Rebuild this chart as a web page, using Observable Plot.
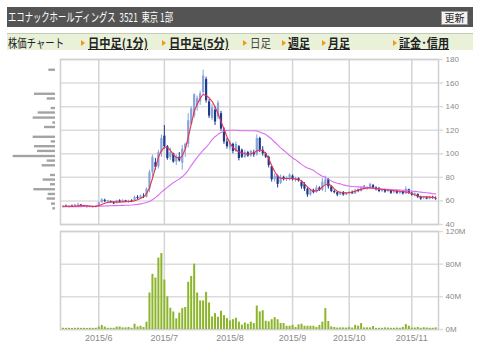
<!DOCTYPE html>
<html><head><meta charset="utf-8">
<script src="https://cdn.jsdelivr.net/npm/d3@7"></script>
<script src="https://cdn.jsdelivr.net/npm/@observablehq/plot@0.6"></script>
<style>
html,body{margin:0;padding:0;background:#fff;width:480px;height:355px;overflow:hidden;position:relative;font-family:"Noto Sans CJK JP",sans-serif;}
.abs{position:absolute;white-space:nowrap;}
#hdr{left:7px;top:7px;width:466px;height:20px;background:#545454;}
#title{left:8px;top:9px;color:#fff;font-size:12px;line-height:15px;transform-origin:0 0;}
#btn{left:441px;top:11px;width:25px;height:12px;background:#f2f2f2;border:1px solid #999;color:#222;font-size:10px;line-height:12px;text-align:center;}
#nav{left:7px;top:33px;width:466px;height:16px;background:#e9f2d9;border-top:1px solid #c3cbb8;}
.nv{font-size:12px;line-height:14px;top:36px;color:#222;transform-origin:0 0;}
.nv.b{font-weight:bold;text-decoration:underline;}
.tri{top:40px;width:0;height:0;border-left:4px solid #f19a1a;border-top:3px solid transparent;border-bottom:3px solid transparent;}
.pl{position:absolute;}
</style></head>
<body>
<div id="hdr" class="abs"></div>
<div id="title" class="abs">エコナックホールディングス&nbsp; 3521&nbsp; 東京 1部</div>
<div id="btn" class="abs">更新</div>
<div id="nav" class="abs"></div>
<div id="price" class="pl" style="left:0;top:52px;width:480px;height:178px"></div>
<div id="prof" class="pl" style="left:0;top:52px;width:60px;height:178px"></div>
<div id="vol" class="pl" style="left:0;top:226px;width:480px;height:125px"></div>
<script>
// ---- data (trading-day index 0 = 2015/5/14 ... 125 = 2015/11/13) ----
const open  = [55,55.5,55,55.5,55,56.5,56.5,55.5,55.5,54.8,55,54.5,56,58.5,60.5,59.5,59.5,58.5,58,60,59,60,59,60,60,63,62,63.5,63,70,84,92.5,89,101,115,106,97,100,93,97,92,104,108,125,132,140,144,152,163,144,130,137,131,134,120,110,105,108,102,106,103,97,101,98,101,99,113,103,100,97,89,78,81,75,80,78,78,81,78,79,76,74,70,65,69,67,71,69,74,78,72,68,67,65,67,65,66.5,67,66,69,68,71,70,71,73,71,70,68,69,68,69,67,68,66.5,68,66,69.5,66.5,65,65.5,63,62,62.5,61.5,63,62];
const high  = [56,56.5,56,56.5,57,58,57,56.5,56,55.5,55.5,56,59,62,61.5,60.5,60,59.5,60.5,61,61,60.5,60.5,61,64,64.5,65,66,71,86,99,96,103,116,124,107,105,100.5,99,101,107,109,134,140,151,149,153,171,165,146,142,140,145,136,122,113,111,109,110,107,104,103,102,103,103,116,114,106,101,98,89,83,82,82,81,80.5,83,82,80,79.5,76,75.5,71,70,70,73,72,79,81,79,73,69.5,68,68,68,67,68,68.5,70,70,72,73,72,75,74,72,71.5,70,70,70,69.5,69,68.5,69,68.5,72,70,67.5,67,66,64,63.5,63.5,64,64,63.5];
const low   = [54,54.5,54,54.8,54.8,55.5,55,54.5,54,54,54,54,55.5,58,58.5,58.5,58,57,57.5,58.5,58.5,58.5,58,58.5,59.5,61,61.5,62,62.5,67,80,86,87,97,104,94.5,94.5,92,90,93,86,97,105,124,130,136,141,150,143,130,128,124,129,119,108,104,103,100,101,94,96,96,97,97,97,98,101,98,96,88,76,76,71,74,77,76.5,77,77,76,76,70,68,63,64,66,66.5,68,68,67,70,67,66,63.5,64.5,64,64.5,65,65.5,65.5,67,67.5,69.5,69,70.5,70,68.5,67,67,66.5,67,65.5,66,65.5,65.5,65,65.5,65.5,64,63.5,62,60.5,61,61,61,61.5,60.5];
const close = [55.5,55,55.5,55.2,56.5,57,55.5,55.8,54.8,55,54.5,55.5,58.5,61,59.5,60,58.5,57.5,60,59,60.5,59,60,59.5,63,62,64,63,70,84,97,88.5,101,113,106,96,101,93,97,94,104,108,128,138,150,147,151,166,145,132,139,127,143,121,110,106,109,102,108,96,97,101,98,102,99,113,103,100,97,90,78,81,74,80,78,79.5,82,78,79,77,72,70,65,69,67,71,69,76,78,72,68,67,65,67,65,66.5,67,66,69,68,71,70,71.5,74,71,69.5,68,69.5,67.5,69,66.5,68,66.5,68,66,70,66.5,65,66,63,61.5,62.5,61.5,63,62,61.5];
const volumeM = [1.5,1.4,1.5,1.3,1.5,1.6,1.4,1.5,1.3,1.5,1.4,1.5,3,5,3,1.5,1.5,1.5,3,3,2,2,2.5,1.5,6.5,3,4,2.5,9,44.7,67.5,63,87.5,93,60.5,40,26,21.5,13,20,25.6,27,57.8,65,80,44.7,35,35,45.5,32.5,15.4,19.5,15,22.3,17,13.4,10.5,12,13.8,9,5.3,8,6.5,9,7.3,28.8,21.5,23,10,9.3,12,14.6,12,7.3,7.3,4,4,5,2.4,5.6,6.5,4,4,4,4,2.5,5,9,25.6,9.8,3.2,2.5,1.8,2,2,1.8,2.5,1.8,5,4,7.3,2,2,2,3.7,1.4,1.5,1.5,2,1.8,1.5,1.5,1.8,1.5,2.5,6,4,1.8,1.8,2.5,1.5,2.2,1.8,1.5,1.5,2];
const maShort = [55.5,55.5,55.5,55.4,55.5,55.8,56,56,55.9,55.6,55.3,55.4,56,57,58,58.8,59.2,59.2,59,59,59.2,59.4,59.5,59.6,60.2,61,62,63.5,66,71,79,88,97,102.5,105.5,105.5,103,99.5,97,96.3,98,104,114,125,136,142,147,150.3,149.5,147.5,144.5,140,134,127.5,121,114.5,109,105.5,103,101.8,100.8,100,99.6,100,100.7,102.5,103,103,100.2,96,90,85,81,79.2,79,79,79,79,78.5,78,77.3,74.5,72,69.5,68.7,68.5,69.6,72,73.8,74.6,73,70.2,68.3,67.1,67,66.8,67,67.5,68.2,69.2,69.8,70.5,71,71.2,71,70.6,70.2,69.9,69.6,69.3,69,68.7,68.5,68.2,68,67.6,67.1,66.3,65.2,64.2,63.6,63.4,63.4,63.2,63,62.8];
const maLong = [55,55,55,55.1,55.1,55.2,55.2,55.3,55.3,55.4,55.4,55.5,55.5,55.6,55.7,55.8,55.9,56,56,56.1,56.2,56.3,56.3,56.5,56.8,57.1,57.5,58,58.6,59.5,61,62.8,65,67.5,69.5,71.5,73.5,75.5,77,78.5,80.5,83,86,90,93.5,97,100,103,105.5,108.5,112,114.5,116.5,118,119.2,119.8,120,120,120,119.8,119.6,119.6,119.6,119.6,119.6,119.4,118.5,117.5,116.5,114.5,112.5,110,107.5,105,103,101,98.5,96.5,95,93,91,89.3,88,87,86,84,82.5,81,80,78.5,77,75.8,75,74.5,73.6,73,72.6,72.3,72,71.9,71.7,71.5,71.3,71,70.6,70.4,70.2,70,69.9,69.7,69.6,69.5,69.4,69.3,69.1,69,68.7,68.4,68.1,67.8,67.5,67.2,66.9,66.6,66.2,66];
// volume-by-price profile (left histogram): bin centre price and relative volume
const profilePrice = [170.9,150.5,146.5,138.4,134.6,130.3,126.1,122.3,114,110.1,106,102,97.7,93.8,89.8,81.6,77.7,73.7,69.5,65.5,61.6,57.3,53.3];
const profileVol   = [80,252,100,52,208,268,32,132,268,52,252,216,508,100,160,60,148,60,260,88,100,48,32];
// axis ticks
const priceTicks = [40,60,80,100,120,140,160,180];
const volTicks = [0,40,80,120];
const monthTickIdx = [12,34,56,77,96,117];
const monthLabels = ["2015/6","2015/7","2015/8","2015/9","2015/10","2015/11"];
const navItems = [
  {t:"株価チャート", x:7.5, w:56, cls:""},
  {t:"日中足(1分)", x:88, w:60, cls:"b", tri:81},
  {t:"日中足(5分)", x:169, w:60, cls:"b", tri:162},
  {t:"日足", x:250, w:21, cls:"", tri:243, col:"#444"},
  {t:"週足", x:288, w:22, cls:"b", tri:282},
  {t:"月足", x:328, w:22, cls:"b", tri:322},
  {t:"証金･信用", x:399, w:50, cls:"b", tri:393}
];

// ---- header ----
function fitW(el, w){ const r = el.getBoundingClientRect().width; el.style.transform = `scaleX(${w/r})`; }
fitW(document.getElementById("title"), 165);
for (const n of navItems) {
  const s = document.createElement("div");
  s.className = "abs nv " + n.cls; s.textContent = n.t; s.style.left = n.x + "px";
  if (n.col) s.style.color = n.col;
  document.body.appendChild(s); fitW(s, n.w);
  if (n.tri != null) { const t = document.createElement("div"); t.className = "abs tri"; t.style.left = n.tri + "px"; document.body.appendChild(t); }
}

// ---- charts ----
const xDom = [-0.84, 125.96];
const candles = close.map((c, i) => ({i, o: open[i], h: high[i], l: low[i], c, col: c >= open[i] ? "#86a4da" : "#1c3a8f"}));
const shortPts = maShort.map((v, i) => ({i, v}));
const longPts = maLong.map((v, i) => ({i, v}));
const vols = volumeM.map((v, i) => ({i, v}));
const prof = profilePrice.map((p, k) => ({p1: p - 1, p2: p + 1, v: profileVol[k]}));
const gridC = "#dcdcdc";
const baseStyle = {background: "transparent", fontFamily: "'Liberation Sans', Arial, sans-serif", fontSize: "8px", color: "#8a8a8a", overflow: "visible"};

const pricePlot = Plot.plot({
  width: 480, height: 178, marginLeft: 60, marginRight: 42, marginTop: 7, marginBottom: 6,
  style: baseStyle,
  x: {domain: xDom, axis: null},
  y: {domain: [40, 180], axis: null},
  color: {type: "identity"},
  marks: [
    Plot.ruleY(priceTicks, {stroke: gridC, strokeWidth: 1.5}),
    Plot.ruleX(monthTickIdx, {stroke: "#d4d4d4", strokeWidth: 1.5}),
    Plot.frame({stroke: "#d0d0d0", strokeWidth: 1.5}),
    Plot.axisY({anchor: "right", label: null, ticks: priceTicks, tickSize: 4, tickPadding: 3, stroke: gridC, strokeWidth: 1.5, fill: "#8a8a8a", fontSize: 8}),
    Plot.ruleX(candles, {x: "i", y1: "l", y2: "h", stroke: "col", strokeWidth: 1}),
    Plot.ruleX(candles, {x: "i", y1: "o", y2: "c", stroke: "col", strokeWidth: 2.2}),
    Plot.line(longPts, {x: "i", y: "v", stroke: "#d96ef0", strokeWidth: 1.1}),
    Plot.line(shortPts, {x: "i", y: "v", stroke: "#e8324e", strokeWidth: 1.1})
  ]
});
document.getElementById("price").appendChild(pricePlot);

const profPlot = Plot.plot({
  width: 60, height: 178, marginLeft: 0, marginRight: 5, marginTop: 7, marginBottom: 6,
  style: baseStyle,
  x: {domain: [0, 660], reverse: true, axis: null},
  y: {domain: [40, 180], axis: null},
  marks: [
    Plot.rectX(prof, {x1: 0, x2: "v", y1: "p1", y2: "p2", fill: "#a3a3a3"})
  ]
});
document.getElementById("prof").appendChild(profPlot);

const volPlot = Plot.plot({
  width: 480, height: 125, marginLeft: 60, marginRight: 42, marginTop: 5, marginBottom: 22,
  style: baseStyle,
  x: {domain: xDom, axis: null},
  y: {domain: [0, 120], axis: null},
  marks: [
    Plot.ruleY(volTicks, {stroke: gridC, strokeWidth: 1.5}),
    Plot.ruleX(monthTickIdx, {stroke: "#d4d4d4", strokeWidth: 1.5}),
    Plot.frame({stroke: "#d0d0d0", strokeWidth: 1.5}),
    Plot.axisY({anchor: "right", label: null, ticks: volTicks, tickFormat: d => d + "M", tickSize: 4, tickPadding: 3, stroke: gridC, strokeWidth: 1.5, fill: "#8a8a8a", fontSize: 8}),
    Plot.axisX({label: null, ticks: monthTickIdx, tickFormat: d => monthLabels[monthTickIdx.indexOf(d)], tickSize: 0, tickPadding: 5, fill: "#8a8a8a", fontSize: 9}),
    Plot.ruleX(vols, {x: "i", y1: 0, y2: "v", stroke: "#8cb52b", strokeWidth: 2})
  ]
});
document.getElementById("vol").appendChild(volPlot);
</script>
</body></html>
